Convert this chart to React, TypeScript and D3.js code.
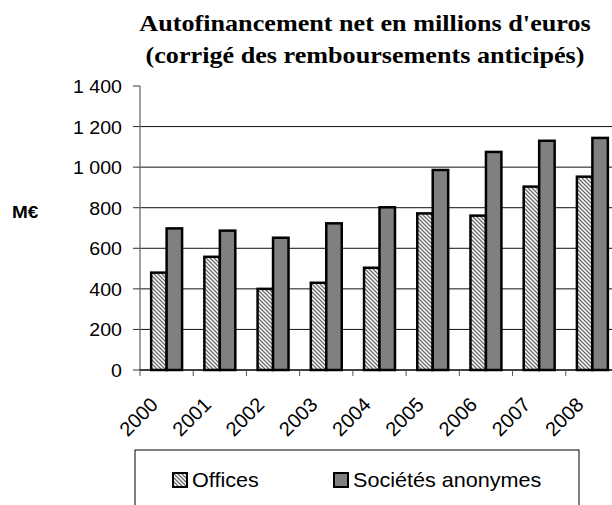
import React from "react";
import * as d3 from "d3";

const years = ["2000", "2001", "2002", "2003", "2004", "2005", "2006", "2007", "2008"];
const offices = [480, 558, 400, 430, 504, 772, 761, 904, 953];
const societes = [698, 687, 652, 723, 802, 986, 1075, 1130, 1144];
const seriesNames = ["Offices", "Sociétés anonymes"];
const yTicks = [0, 200, 400, 600, 800, 1000, 1200, 1400];
const titleLines = ["Autofinancement net en millions d'euros", "(corrigé des remboursements anticipés)"];

const W = 612;
const H = 505;
const left = 140;
const right = 619;
const top = 86;
const bottom = 370;

const fmt = (v: number) => d3.format(",")(v).replace(/,/g, " ");

function SText({ x, y, sx = 1, anchor = "start", size, weight = "normal", family, children }: any) {
  return (
    <text
      transform={`translate(${x},${y}) scale(${sx},1)`}
      textAnchor={anchor}
      fontSize={size}
      fontWeight={weight}
      fontFamily={family}
      fill="#000"
    >
      {children}
    </text>
  );
}

export default function App() {
  const y = d3.scaleLinear().domain([0, 1400]).range([bottom, top]);
  const x = d3.scaleBand<string>().domain(years).range([left, right]).paddingInner(0).paddingOuter(0);
  const inner = d3
    .scaleBand<string>()
    .domain(seriesNames)
    .range([0, x.bandwidth()])
    .paddingInner(0)
    .paddingOuter(0.72);

  const sans = "'Liberation Sans', Arial, sans-serif";
  const serif = "'Liberation Serif', 'Times New Roman', serif";

  return (
    <svg width={W} height={H} style={{ position: "absolute", left: 0, top: 0, background: "#fff" }}>
      <defs>
        <pattern id="hatch" patternUnits="userSpaceOnUse" width="4" height="4">
          <rect width="4" height="4" fill="#fff" />
          <path d="M-1,-1 L5,5 M-1,3 L1,5 M3,-1 L5,1" stroke="#6a6a6a" strokeWidth="1.3" />
        </pattern>
      </defs>

      {/* title */}
      {titleLines.map((t, i) => (
        <SText key={t} x={365} y={31 + i * 32} sx={1.09} anchor="middle" size={24} weight="bold" family={serif}>
          {t}
        </SText>
      ))}

      {/* unit label */}
      <SText x={12} y={218} sx={1.15} size={16.5} weight="bold" family={sans}>
        M€
      </SText>

      {/* gridlines */}
      {yTicks
        .filter((v) => v > 0 && v < 1400)
        .map((v) => (
          <line key={v} x1={left} x2={right} y1={y(v)} y2={y(v)} stroke="#111" strokeWidth={1} />
        ))}

      {/* bars */}
      {years.map((yr, i) => {
        const vals = [offices[i], societes[i]];
        return (
          <g key={yr}>
            {seriesNames.map((s, j) => (
              <rect
                key={s}
                x={(x(yr) as number) + (inner(s) as number)}
                y={y(vals[j])}
                width={inner.bandwidth()}
                height={y(0) - y(vals[j])}
                fill={j === 0 ? "url(#hatch)" : "#808080"}
                stroke="#000"
                strokeWidth={2.5}
              />
            ))}
          </g>
        );
      })}

      {/* y axis */}
      <line x1={left} x2={left} y1={top} y2={bottom} stroke="#808080" strokeWidth={1.5} />
      {yTicks.map((v) => (
        <g key={v}>
          <line x1={left - 7} x2={left} y1={y(v)} y2={y(v)} stroke="#333" strokeWidth={1} />
          <SText x={122} y={y(v) + 7} sx={1.12} anchor="end" size={17.5} family={sans}>
            {fmt(v)}
          </SText>
        </g>
      ))}

      {/* x axis */}
      <line x1={left} x2={right} y1={bottom} y2={bottom} stroke="#000" strokeWidth={1.5} />
      {years.map((yr) => (
        <line
          key={yr}
          x1={(x(yr) as number) + x.bandwidth()}
          x2={(x(yr) as number) + x.bandwidth()}
          y1={bottom}
          y2={bottom + 6}
          stroke="#555"
          strokeWidth={1}
        />
      ))}
      <line x1={left} x2={left} y1={bottom} y2={bottom + 6} stroke="#555" strokeWidth={1} />
      {years.map((yr) => {
        const cx = (x(yr) as number) + x.bandwidth() / 2;
        return (
          <text
            key={yr}
            transform={`translate(${cx - 7.5},${bottom + 36}) rotate(-45)`}
            textAnchor="end"
            fontSize={20}
            fontFamily={sans}
            fill="#000"
          >
            {yr}
          </text>
        );
      })}

      {/* legend */}
      <rect x={135} y={450} width={444} height={80} fill="#fff" stroke="#000" strokeWidth={1} />
      {seriesNames.map((s, j) => {
        const lx = j === 0 ? 173 : 334;
        return (
          <g key={s}>
            <rect
              x={lx}
              y={473}
              width={14}
              height={14}
              fill={j === 0 ? "url(#hatch)" : "#808080"}
              stroke="#000"
              strokeWidth={2}
            />
            <SText x={lx + 19} y={487} sx={1.08} size={20} family={sans}>
              {s}
            </SText>
          </g>
        );
      })}
    </svg>
  );
}
